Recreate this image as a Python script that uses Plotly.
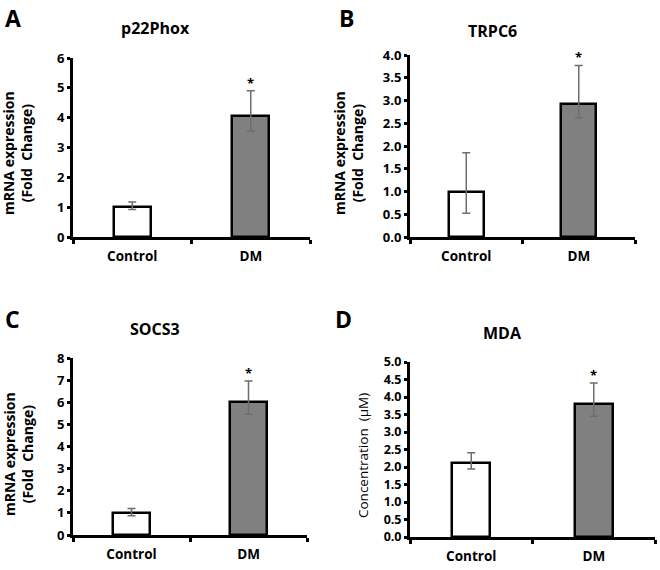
import plotly.graph_objects as go

W, H = 660, 570

categories = ["Control", "DM"]

panel_letters = ["A", "B", "C", "D"]
panel_titles = ["p22Phox", "TRPC6", "SOCS3", "MDA"]
y_titles = [
    "<b>mRNA expression<br>(Fold  Change)</b>",
    "<b>mRNA expression<br>(Fold  Change)</b>",
    "<b>mRNA expression<br>(Fold  Change)</b>",
    "Concentration  (μM)",
]

# mean values per panel (Control, DM)
values_A = [1.0, 4.05]
values_B = [1.0, 2.92]
values_C = [1.0, 6.0]
values_D = [2.12, 3.81]

# error bars (upper, lower) per panel
err_plus_A = [0.17, 0.85]
err_minus_A = [0.08, 0.50]
err_plus_B = [0.85, 0.85]
err_minus_B = [0.48, 0.30]
err_plus_C = [0.2, 0.96]
err_minus_C = [0.13, 0.54]
err_plus_D = [0.29, 0.59]
err_minus_D = [0.18, 0.36]

significance = ["", "*"]

y_ticks_A = [0, 1, 2, 3, 4, 5, 6]
y_ticks_B = [0.0, 0.5, 1.0, 1.5, 2.0, 2.5, 3.0, 3.5, 4.0]
y_ticks_C = [0, 1, 2, 3, 4, 5, 6, 7, 8]
y_ticks_D = [0.0, 0.5, 1.0, 1.5, 2.0, 2.5, 3.0, 3.5, 4.0, 4.5, 5.0]
y_tick_fmt = ["{:d}", "{:.1f}", "{:d}", "{:.1f}"]

values = [values_A, values_B, values_C, values_D]
err_plus = [err_plus_A, err_plus_B, err_plus_C, err_plus_D]
err_minus = [err_minus_A, err_minus_B, err_minus_C, err_minus_D]
y_ticks = [y_ticks_A, y_ticks_B, y_ticks_C, y_ticks_D]

# plot areas in pixels: (x0, x1, ytop, ybottom)
boxes = [(73, 310, 58, 237), (410, 635, 55, 237), (73, 307, 358, 535), (410, 655, 362, 537)]
title_pos = [(155, 28), (492, 31), (155, 329), (502, 333)]
letter_pos = [(13, 0), (346, 0), (13, 301), (343, 301)]
ytitle_pos = [(18, 153), (349, 153), (18, 454), (363, 456)]
ytick_size = [13, 13, 13, 12.5]

FONT = "Open Sans"
bar_colors = ["white", "#808080"]

fig = go.Figure()
annotations = []
layout = {}

for i in range(4):
    sfx = "" if i == 0 else str(i + 1)
    xa, ya = "x" + sfx, "y" + sfx
    x0, x1, yt, yb = boxes[i]
    fig.add_trace(go.Bar(
        x=categories, y=values[i], xaxis=xa, yaxis=ya,
        width=0.31,
        marker=dict(color=bar_colors, line=dict(color="black", width=2.5)),
        error_y=dict(type="data", symmetric=False, array=err_plus[i], arrayminus=err_minus[i],
                     color="#6e6e6e", thickness=1.5, width=4),
        showlegend=False, hoverinfo="skip",
    ))
    layout["xaxis" + sfx] = dict(
        domain=[x0 / W, x1 / W], anchor=ya, type="category", automargin=False,
        showline=True, linecolor="black", linewidth=3,
        ticks="outside", tickson="boundaries", ticklen=4, tickwidth=3, tickcolor="black",
        tickmode="array", tickvals=categories, ticktext=["<b>" + c + "</b>" for c in categories],
        tickfont=dict(family=FONT, size=13.5, color="black"),
        ticklabelstandoff=5,
        showgrid=False, zeroline=False, range=[-0.5, 1.5], fixedrange=True,
    )
    yt_vals = y_ticks[i]
    layout["yaxis" + sfx] = dict(
        domain=[1 - yb / H, 1 - yt / H], anchor=xa, automargin=False,
        range=[yt_vals[0], yt_vals[-1]],
        tickmode="array", tickvals=yt_vals,
        ticktext=["<b>" + y_tick_fmt[i].format(v) + "</b>" for v in yt_vals],
        showline=True, linecolor="black", linewidth=3,
        ticks="outside", ticklen=3, tickwidth=3, tickcolor="black",
        tickfont=dict(family=FONT, size=ytick_size[i], color="black"),
        showgrid=False, zeroline=False, fixedrange=True,
    )
    for j, s in enumerate(significance):
        if s:
            annotations.append(dict(
                x=categories[j], y=values[i][j] + err_plus[i][j], xref=xa, yref=ya,
                text="<b>" + s + "</b>", showarrow=False, yanchor="bottom", yshift=-3,
                font=dict(family=FONT, size=13, color="black"),
            ))
    tx, ty = title_pos[i]
    annotations.append(dict(x=tx / W, y=1 - ty / H, xref="paper", yref="paper",
                            text="<b>" + panel_titles[i] + "</b>", showarrow=False,
                            xanchor="center", yanchor="middle",
                            font=dict(family=FONT, size=16, color="black")))
    lx, ly = letter_pos[i]
    annotations.append(dict(x=lx / W, y=1 - ly / H, xref="paper", yref="paper",
                            text="<b>" + panel_letters[i] + "</b>", showarrow=False,
                            xanchor="center", yanchor="top",
                            font=dict(family=FONT, size=23, color="black")))
    qx, qy = ytitle_pos[i]
    annotations.append(dict(x=qx / W, y=1 - qy / H, xref="paper", yref="paper",
                            text=y_titles[i], showarrow=False, textangle=-90,
                            xanchor="center", yanchor="middle",
                            font=dict(family=FONT, size=14 if i < 3 else 13.5, color="black")))

fig.update_layout(
    width=W, height=H, margin=dict(l=0, r=0, t=0, b=0, autoexpand=False),
    paper_bgcolor="white", plot_bgcolor="white",
    annotations=annotations, bargap=0,
    **layout,
)

fig.write_html("out.html", config={"displayModeBar": False},
               post_script="document.body.style.margin='0px';")
